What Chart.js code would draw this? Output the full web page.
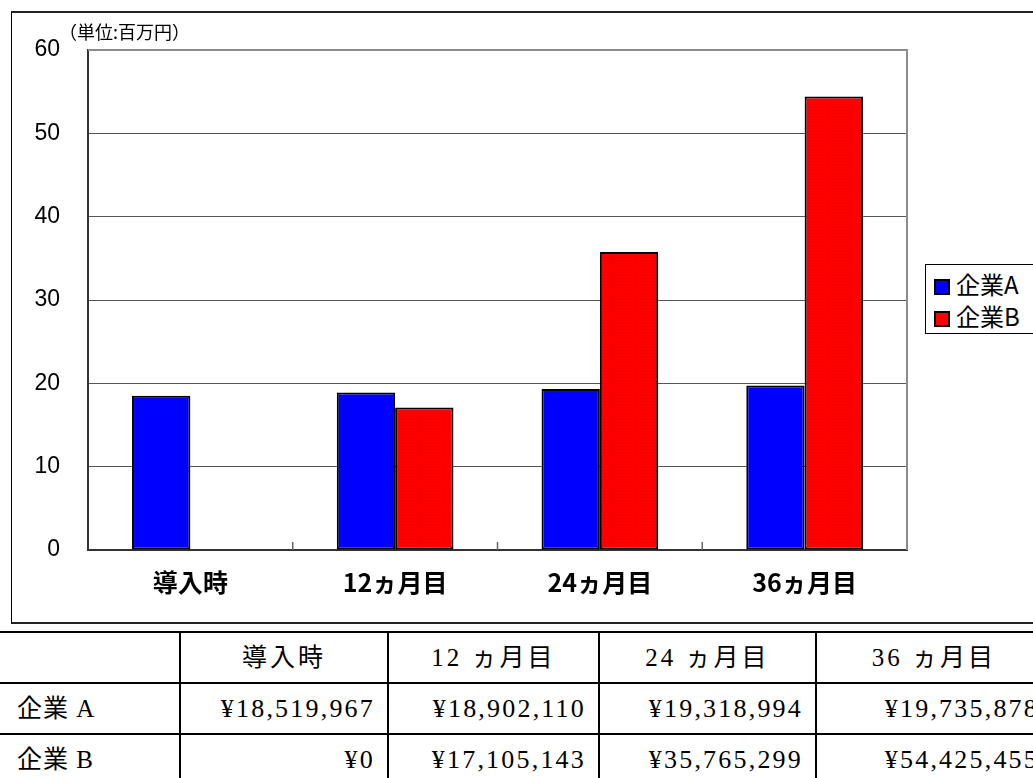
<!DOCTYPE html>
<html>
<head>
<meta charset="utf-8">
<script src="https://cdn.jsdelivr.net/npm/chart.js@4.4.1/dist/chart.umd.min.js"></script>
<style>
  html, body { margin: 0; padding: 0; background: #fff; overflow: hidden; width: 1033px; height: 778px; position: relative; }
  #frame { position: absolute; left: 11px; top: 11px; width: 1100px; height: 609px;
    border-top: 2px solid #222; border-left: 1px solid #000; border-bottom: 2px solid #222; }
  #wrap { position: absolute; left: 0; top: 0; width: 1021px; height: 609px; }
  #unit { position: absolute; left: 47px; top: 5px; font: 18px "Noto Sans CJK JP", sans-serif; line-height: 26px; color: #000; white-space: nowrap; }
  #legend { position: absolute; left: 913px; top: 251px; width: 200px; height: 68px;
    border: 1px solid #000; background: #fff; font: 24px "Noto Sans CJK JP", "Liberation Sans", sans-serif; }
  #legend div { position: absolute; left: 8px; height: 30px; line-height: 30px; white-space: nowrap; }
  #legend span { display: inline-block; width: 12px; height: 12px; border: 2px solid #000; margin-right: 6px; vertical-align: -1px; }
  table { position: absolute; left: -2px; top: 631px; width: 1053px; border-collapse: collapse; table-layout: fixed;
    font: 26px "Liberation Serif", "Noto Sans CJK JP", serif; color: #000; }
  td { border: 2px solid #000; height: 49px; padding: 0 12px 0 0; line-height: 26px; white-space: nowrap; overflow: hidden; }
  tr:first-child td { height: 48px; }
  td.h { text-align: center; letter-spacing: 3px; padding: 0; font-size: 25px; }
  td.n { text-align: right; letter-spacing: 2.2px; }
  td.l { text-align: left; padding-left: 17px; letter-spacing: 1px; font-size: 25px; }
</style>
</head>
<body>
<div id="frame">
  <div id="wrap"><canvas id="myChart"></canvas></div>
  <div id="unit">（単位:百万円）</div>
  <div id="legend"></div>
</div>
<table id="tbl"></table>
<script>
'use strict';

var categories = ['導入時', '12ヵ月目', '24ヵ月目', '36ヵ月目'];
var tableHeads = ['導入時', '12 ヵ月目', '24 ヵ月目', '36 ヵ月目'];
var seriesNames = ['企業A', '企業B'];
var rowNames = ['企業 A', '企業 B'];
var valuesA = [18519967, 18902110, 19318994, 19735878];
var valuesB = [0, 17105143, 35765299, 54425455];
var yMin = 0;
var yMax = 60;
var yStep = 10;

var blue = '#0000ff';
var red = '#ff0000';

// red bars have a faint dot texture
function redPattern() {
  var c = document.createElement('canvas');
  c.width = 3; c.height = 3;
  var g = c.getContext('2d');
  g.fillStyle = red;
  g.fillRect(0, 0, 3, 3);
  g.fillStyle = '#e60000';
  g.fillRect(1, 1, 1, 1);
  return g.createPattern(c, 'repeat');
}

function toMillions(arr) {
  return arr.map(function(v) { return v / 1000000; });
}

var frameBits = {
  id: 'frameBits',
  afterDatasetsDraw: function(chart) {
    var ctx = chart.ctx;
    var a = chart.chartArea;
    var x = chart.scales.x;
    ctx.save();
    ctx.strokeStyle = '#8c8c8c';
    ctx.lineWidth = 2;
    ctx.beginPath();
    ctx.moveTo(a.left, a.top);
    ctx.lineTo(a.right, a.top);
    ctx.lineTo(a.right, a.bottom);
    ctx.stroke();
    ctx.strokeStyle = '#666';
    ctx.lineWidth = 1.5;
    ctx.beginPath();
    for (var i = 0; i < categories.length - 1; i++) {
      var px = (x.getPixelForTick(i) + x.getPixelForTick(i + 1)) / 2;
      ctx.moveTo(px, a.bottom);
      ctx.lineTo(px, a.bottom - 8);
    }
    ctx.stroke();
    ctx.restore();
  }
};

var ctx = document.getElementById('myChart').getContext('2d');
var chart = new Chart(ctx, {
  type: 'bar',
  data: {
    labels: categories,
    datasets: [{
      label: seriesNames[0],
      data: toMillions(valuesA),
      backgroundColor: blue,
      borderColor: '#000',
      borderWidth: 2,
      borderSkipped: false
    }, {
      label: seriesNames[1],
      data: toMillions(valuesB),
      backgroundColor: redPattern(),
      borderColor: '#000',
      borderWidth: 2,
      borderSkipped: false
    }]
  },
  options: {
    responsive: true,
    maintainAspectRatio: false,
    animation: false,
    layout: { padding: { left: 0, top: 37, right: 126, bottom: 12 } },
    datasets: { bar: { categoryPercentage: 0.57, barPercentage: 1 } },
    plugins: { legend: { display: false }, tooltip: { enabled: false } },
    scales: {
      x: {
        grid: { display: false },
        border: { display: true, color: '#333', width: 2 },
        ticks: { color: '#000', padding: 9, font: { family: '"Noto Sans CJK JP", sans-serif', size: 25, weight: 'bold' } },
        afterFit: function(s) { s.height = 60; }
      },
      y: {
        min: yMin,
        max: yMax,
        // invisible tick marks push the labels left without adding top padding
        grid: { color: '#555', lineWidth: 1, drawTicks: true, tickLength: 26, tickColor: 'rgba(0,0,0,0)' },
        border: { display: true, color: '#333', width: 2 },
        ticks: { stepSize: yStep, color: '#000', padding: 2, font: { family: '"Liberation Sans", Arial, sans-serif', size: 23 } },
        afterFit: function(s) { s.width = 76; }
      }
    }
  },
  plugins: [frameBits]
});

// legend
var legendEl = document.getElementById('legend');
[blue, red].forEach(function(col, i) {
  var d = document.createElement('div');
  d.style.top = (4 + i * 32) + 'px';
  var sw = document.createElement('span');
  sw.style.background = col;
  d.appendChild(sw);
  d.appendChild(document.createTextNode(seriesNames[i]));
  legendEl.appendChild(d);
});

// table under the chart
function yen(v) {
  return '¥' + v.toLocaleString('en-US');
}
var colWidths = [181, 208, 211, 217, 236];
var tbl = document.getElementById('tbl');
var cg = document.createElement('colgroup');
colWidths.forEach(function(w) {
  var c = document.createElement('col');
  c.style.width = w + 'px';
  cg.appendChild(c);
});
tbl.appendChild(cg);
var tr = document.createElement('tr');
tr.appendChild(document.createElement('td'));
tableHeads.forEach(function(h) {
  var td = document.createElement('td');
  td.className = 'h';
  td.textContent = h;
  tr.appendChild(td);
});
tbl.appendChild(tr);
[valuesA, valuesB].forEach(function(vals, r) {
  var row = document.createElement('tr');
  var th = document.createElement('td');
  th.className = 'l';
  th.textContent = rowNames[r];
  row.appendChild(th);
  vals.forEach(function(v) {
    var td = document.createElement('td');
    td.className = 'n';
    td.textContent = yen(v);
    row.appendChild(td);
  });
  tbl.appendChild(row);
});
</script>
</body>
</html>
